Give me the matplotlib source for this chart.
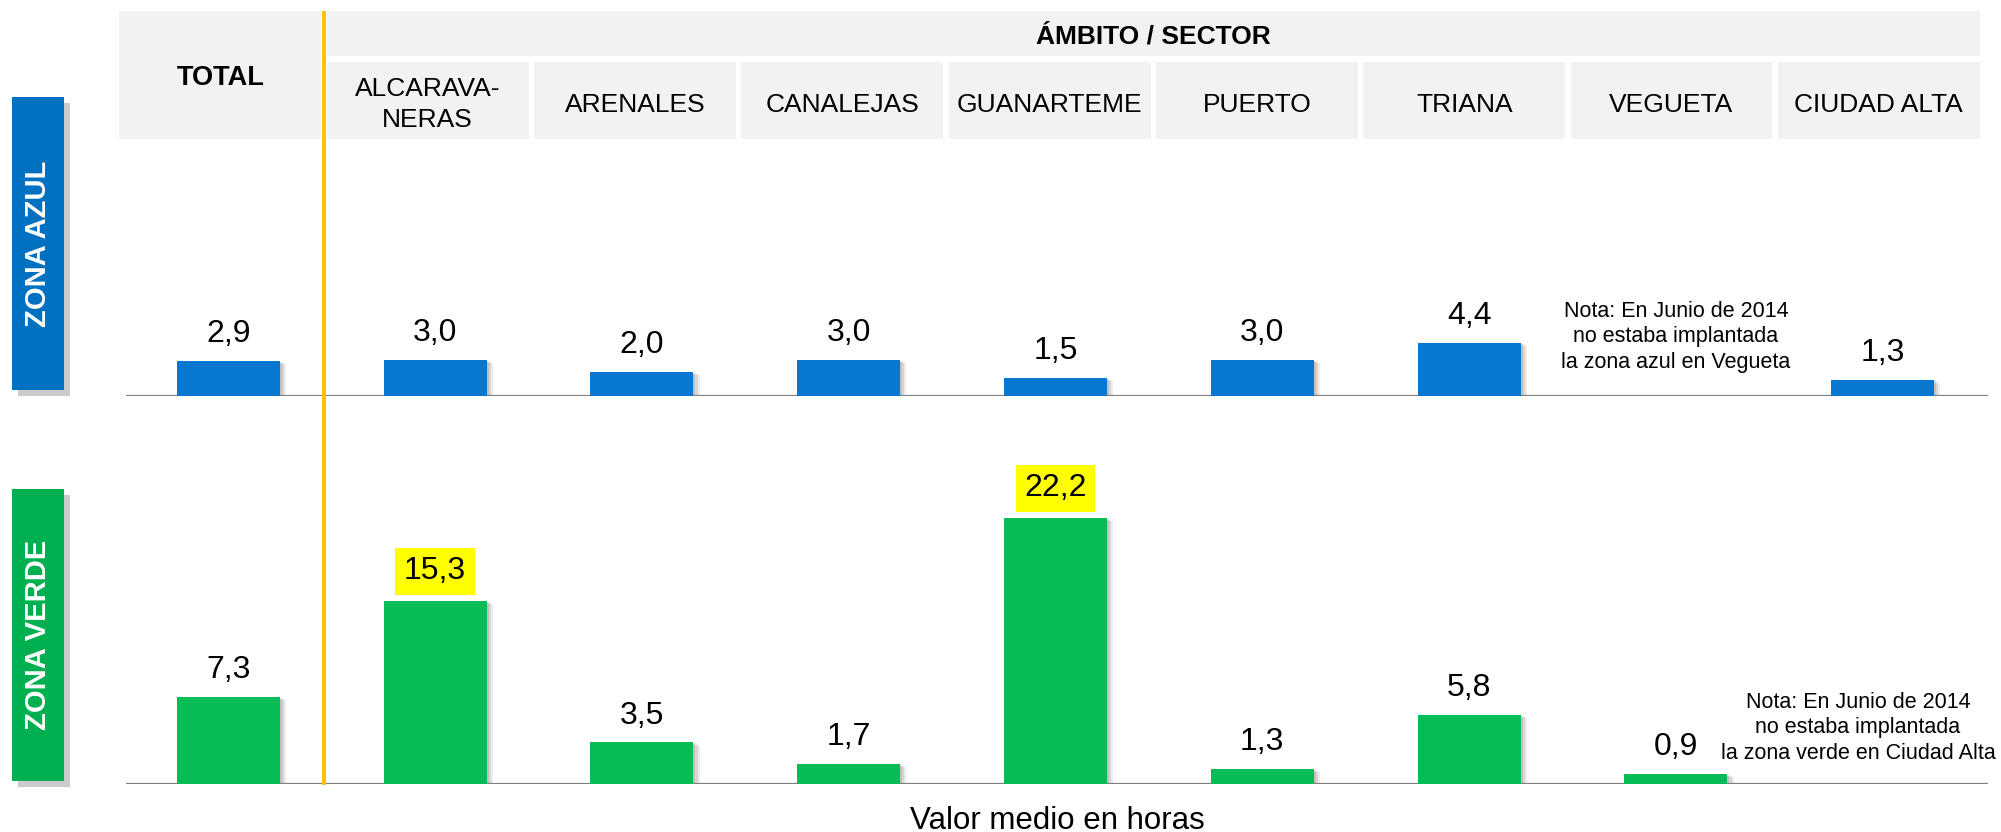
import numpy as np
import matplotlib
matplotlib.use('Agg')
import matplotlib.pyplot as plt
from matplotlib.patches import Rectangle
from matplotlib.lines import Line2D
import matplotlib.patheffects as pe

plt.rcParams['font.family'] = ['Liberation Sans', 'DejaVu Sans']

# ---------------- data ----------------
categories = ['TOTAL', 'ALCARAVA-\nNERAS', 'ARENALES', 'CANALEJAS', 'GUANARTEME',
              'PUERTO', 'TRIANA', 'VEGUETA', 'CIUDAD ALTA']
zona_azul = [2.9, 3.0, 2.0, 3.0, 1.5, 3.0, 4.4, np.nan, 1.3]
zona_verde = [7.3, 15.3, 3.5, 1.7, 22.2, 1.3, 5.8, 0.9, np.nan]
highlight_azul = [False] * 9
highlight_verde = [False, True, False, False, True, False, False, False, False]
group_title = 'ÁMBITO / SECTOR'
row_labels = ['ZONA AZUL', 'ZONA VERDE']
xlabel = 'Valor medio en horas'
nota_azul = 'Nota: En Junio de 2014\nno estaba implantada\nla zona azul en Vegueta'
nota_verde = 'Nota: En Junio de 2014\nno estaba implantada\nla zona verde en Ciudad Alta'

W, H = 2001, 832
fig = plt.figure(figsize=(W / 100, H / 100), dpi=100)
fig.patch.set_facecolor('white')

# pixel-coordinate overlay axes (layout only)
axp = fig.add_axes([0, 0, 1, 1])
axp.set_xlim(0, W)
axp.set_ylim(H, 0)
axp.axis('off')

# header axes (category index units)
axh = fig.add_axes([0, 0, 1, 1])
axh.set_xlim(-1.0632, 8.5895)
axh.set_ylim(H, 0)
axh.axis('off')
axh.patch.set_alpha(0)

HDR = '#F2F2F2'
cw = 0.9735
idx = np.arange(len(categories))
axh.add_patch(Rectangle((0 - cw / 2, 10.7), cw, 128, fc=HDR, ec='none'))
axh.text(0, 78, categories[0], ha='center', va='center', fontsize=19.5, fontweight='bold')
axh.add_patch(Rectangle((1 - cw / 2, 10.7), 7 + cw, 45, fc=HDR, ec='none'))
axh.text(4.5, 37, group_title, ha='center', va='center', fontsize=19, fontweight='bold')
for i in idx[1:]:
    axh.add_patch(Rectangle((i - cw / 2, 62), cw, 76.7, fc=HDR, ec='none'))
    axh.text(i, 104.5, categories[i], ha='center', va='center', fontsize=19, linespacing=1.42)

# zone label boxes
shadow = [pe.SimplePatchShadow(offset=(4, -4), shadow_rgbFace='#7f7f7f', alpha=0.4), pe.Normal()]
for (y0, h0), lab, col in zip([(97, 293), (489, 292)], row_labels, ['#0070C0', '#00B050']):
    axp.add_patch(Rectangle((12, y0), 52, h0, fc=col, ec='none', path_effects=shadow))
    axp.text(38, y0 + h0 / 2, lab, rotation=90, ha='center', va='center', color='white',
             fontsize=21, fontweight='bold')

axp.text(1057, 821, xlabel, ha='center', va='center', fontsize=22.5)

# ---------------- bar panels ----------------
bar_shadow = [pe.SimplePatchShadow(offset=(4.5, -2.5), shadow_rgbFace='#808080', alpha=0.15),
              pe.SimplePatchShadow(offset=(3, -1.5), shadow_rgbFace='#808080', alpha=0.2),
              pe.SimplePatchShadow(offset=(1.5, -0.8), shadow_rgbFace='#808080', alpha=0.25),
              pe.Normal()]


def panel(bottom_px, values, highlights, color):
    ax = fig.add_axes([0, bottom_px / H, 1, 300 / H])
    ax.patch.set_alpha(0)
    ax.set_xlim(-1.104, 8.572)
    ax.set_ylim(0, 25)
    ax.axis('off')
    vals = np.array(values, dtype=float)
    m = ~np.isnan(vals)
    ax.hlines(0, -0.495, 8.509, color='#808080', lw=1.6, zorder=1)
    ax.bar(idx[m], vals[m], width=0.498, color=color, zorder=2, path_effects=bar_shadow)
    for i, v, hl in zip(idx, vals, highlights):
        if np.isnan(v):
            continue
        txt = f'{v:.1f}'.replace('.', ',')
        if hl:
            ax.annotate(txt, xy=(i, v), xytext=(0, 15.5), textcoords='offset points',
                        ha='center', va='baseline', fontsize=23,
                        bbox=dict(boxstyle='square,pad=0.27', fc='#FFFF00', ec='none'))
        else:
            ax.annotate(txt, xy=(i, v), xytext=(0, 13.5), textcoords='offset points',
                        ha='center', va='baseline', fontsize=23)
    return ax


ax1 = panel(H - 395.7, zona_azul, highlight_azul, '#0777CF')
ax2 = panel(H - 784.3, zona_verde, highlight_verde, '#07BC55')

ax1.text(7.0, 4.9, nota_azul, ha='center', va='center', fontsize=15.5, linespacing=1.28)
ax2.text(7.88, 4.7, nota_verde, ha='center', va='center', fontsize=15.5, linespacing=1.28)

# orange separator
fig.add_artist(Line2D([324, 324], [13, 783], transform=axp.transData, color='#FFC000', lw=2.8))

fig.savefig('out.png', dpi=100, facecolor='white')
